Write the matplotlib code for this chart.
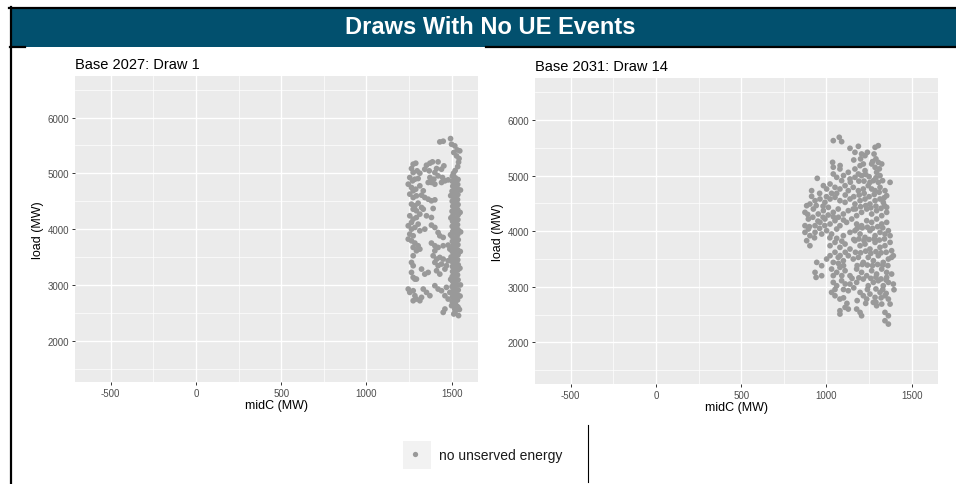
import matplotlib
matplotlib.use("Agg")
import matplotlib.pyplot as plt
from matplotlib.patches import Rectangle
from matplotlib.lines import Line2D

plt.rcParams['font.family'] = ['Liberation Sans', 'DejaVu Sans']
plt.rcParams['axes.unicode_minus'] = False

W, H = 956, 485

# ---- data (midC MW, load MW) ----
title = "Draws With No UE Events"
panel_titles = ["Base 2027: Draw 1", "Base 2031: Draw 14"]
legend_label = "no unserved energy"
x_ticks = [-500, 0, 500, 1000, 1500]
y_ticks = [2000, 3000, 4000, 5000, 6000]

# left panel: scattered part of the cloud
left_scatter = [
    (1430, 5564), (1450, 5576), (1493, 5623), (1499, 5522), (1518, 5492), (1532, 5420),
    (1547, 5403), (1512, 5373), (1528, 5313), (1543, 5265),
    (1274, 5164), (1289, 5182), (1352, 5146), (1372, 5182), (1387, 5206), (1420, 5206),
    (1454, 5134), (1264, 5086), (1274, 5015), (1297, 5045), (1313, 5003), (1342, 5074),
    (1368, 5045), (1401, 5015), (1411, 5086), (1440, 5074), (1254, 4925), (1270, 4866),
    (1284, 4895), (1303, 4907), (1372, 4925), (1395, 4895), (1420, 4955), (1446, 4925),
    (1460, 4866), (1479, 4883), (1245, 4806), (1264, 4746), (1274, 4687), (1289, 4716),
    (1313, 4776), (1333, 4687), (1362, 4836), (1381, 4836), (1401, 4806), (1440, 4836),
    (1254, 4627), (1274, 4567), (1293, 4597), (1323, 4609), (1342, 4567), (1362, 4537),
    (1381, 4508), (1401, 4525), (1264, 4448), (1284, 4418), (1303, 4466), (1274, 4358),
    (1293, 4329), (1323, 4388), (1333, 4358), (1391, 4370), (1254, 4239), (1274, 4179),
    (1264, 4120), (1293, 4209), (1313, 4269), (1352, 4239), (1381, 4209), (1303, 4090),
    (1245, 4060), (1264, 4000), (1284, 4030), (1313, 3970), (1342, 4000), (1381, 4072),
    (1401, 4030), (1420, 3940), (1430, 3881), (1450, 3851), (1254, 3911), (1274, 3881),
    (1245, 3821), (1264, 3791), (1284, 3750), (1303, 3702), (1313, 3642), (1274, 3672),
    (1293, 3612), (1381, 3750), (1401, 3702), (1420, 3672), (1450, 3702), (1479, 3714),
    (1489, 3642), (1401, 3612), (1274, 3523), (1264, 3403), (1274, 3344), (1264, 3224),
    (1284, 3105), (1323, 3284), (1342, 3194), (1362, 3224), (1391, 3523), (1411, 3463),
    (1430, 3493), (1401, 3403), (1420, 3344), (1440, 3374), (1411, 3254), (1430, 3194),
    (1460, 3284), (1469, 3344), (1450, 3463), (1479, 3433), (1245, 2926), (1254, 2866),
    (1274, 2896), (1284, 2807), (1293, 2747), (1313, 2717), (1333, 2926), (1352, 2866),
    (1372, 2807), (1323, 2777), (1274, 2717), (1401, 2986), (1420, 2926), (1440, 2896),
    (1469, 2956), (1489, 2866), (1460, 2807), (1479, 2747), (1460, 2568), (1450, 2508),
    (1499, 2628), (1518, 2568), (1512, 2479), (1293, 3105), (1274, 3135),
]

# left panel: dense column near 1500-1550 MW
left_column = [
    (1504, 4950), (1521, 4920), (1537, 4890), (1503, 4860), (1519, 4830), (1535, 4800),
    (1506, 4770), (1522, 4740), (1538, 4710), (1502, 4680), (1520, 4650), (1536, 4620),
    (1505, 4590), (1518, 4560), (1534, 4530), (1503, 4500), (1521, 4470), (1537, 4440),
    (1506, 4410), (1520, 4380), (1535, 4350), (1502, 4320), (1519, 4290), (1538, 4260),
    (1504, 4230), (1522, 4200), (1536, 4170), (1505, 4140), (1518, 4110), (1534, 4080),
    (1503, 4050), (1520, 4020), (1537, 3990), (1506, 3960), (1521, 3930), (1535, 3900),
    (1502, 3870), (1519, 3840), (1538, 3810), (1504, 3780), (1522, 3750), (1536, 3720),
    (1505, 3690), (1518, 3660), (1534, 3630), (1503, 3600), (1521, 3570), (1537, 3540),
    (1506, 3510), (1520, 3480), (1535, 3450), (1502, 3420), (1519, 3390), (1538, 3360),
    (1504, 3330), (1522, 3300), (1536, 3270), (1505, 3240), (1518, 3210), (1534, 3180),
    (1503, 3150), (1520, 3120), (1537, 3090), (1506, 3060), (1521, 3030), (1535, 3000),
    (1502, 2970), (1519, 2940), (1538, 2910), (1504, 2880), (1522, 2850), (1536, 2820),
    (1505, 2790), (1518, 2760), (1534, 2730), (1503, 2700), (1520, 2670),
    (1494, 4600), (1495, 4200), (1493, 3900), (1496, 3500), (1494, 3100), (1551, 4700),
    (1549, 4300), (1552, 3950), (1550, 3600), (1548, 3300), (1551, 3000), (1549, 2800),
    (1530, 2620), (1545, 2560), (1520, 2520), (1540, 2450), (1537, 2600), (1520, 5050),
    (1535, 5120), (1510, 5000), (1540, 5200),
]

# right panel cloud
right_pts = [
    (1040, 5628), (1075, 5688), (1089, 5610), (1138, 5490), (1167, 5418), (1187, 5526),
    (1206, 5388), (1226, 5358), (1240, 5418), (1285, 5508), (1304, 5538), (1279, 5388),
    (1036, 5238), (1079, 5118), (1128, 5058), (1167, 5118), (1197, 5178), (1216, 5208),
    (1265, 5208), (1285, 5148), (1304, 5238), (1324, 5208), (1294, 5058), (1314, 4998),
    (946, 4950), (1040, 5028), (1060, 4968), (1089, 4908), (1138, 4938), (1167, 4968),
    (1187, 5028), (1206, 4998), (1226, 5088), (1255, 4878), (1275, 4908), (1304, 4878),
    (1329, 4908), (1373, 4878), (913, 4728), (913, 4626), (982, 4818), (1001, 4758),
    (1021, 4848), (1050, 4788), (1079, 4758), (1109, 4818), (1128, 4728), (1157, 4788),
    (1187, 4728), (1216, 4758), (1245, 4818), (1265, 4758), (1285, 4728), (1314, 4788),
    (1343, 4728), (1353, 4638), (884, 4458), (903, 4488), (933, 4548), (962, 4578),
    (991, 4518), (1021, 4578), (1050, 4608), (1079, 4548), (1109, 4518), (1138, 4578),
    (1167, 4488), (1197, 4548), (1226, 4578), (1255, 4488), (1285, 4548), (1314, 4578),
    (1333, 4518), (874, 4338), (894, 4218), (923, 4398), (952, 4308), (982, 4368),
    (1011, 4428), (1040, 4338), (1069, 4398), (1099, 4308), (1128, 4368), (1157, 4398),
    (1177, 4278), (1206, 4338), (1236, 4398), (1265, 4308), (1294, 4368), (1324, 4278),
    (1353, 4338), (1353, 4428), (874, 4098), (874, 3978), (894, 4038), (903, 3918),
    (884, 3828), (903, 3738), (933, 4098), (962, 4158), (991, 4218), (1021, 4128),
    (1050, 4188), (1079, 4098), (1118, 4158), (1148, 4218), (1177, 4128), (1206, 4098),
    (1236, 4188), (1265, 4158), (1294, 4218), (1324, 4128), (1353, 4158), (933, 3978),
    (972, 3948), (1001, 4008), (1030, 3948), (1060, 4038), (1099, 3918), (1138, 3978),
    (1167, 4008), (1197, 3948), (1226, 3888), (1255, 4008), (1285, 3918), (1314, 3978),
    (1343, 3948), (1363, 4008), (1373, 3918), (1021, 3738), (1050, 3798), (1079, 3708),
    (1109, 3768), (1138, 3678), (1167, 3828), (1197, 3738), (1226, 3768), (1255, 3678),
    (1285, 3798), (1314, 3708), (1343, 3738), (1373, 3798), (1382, 3648), (1382, 3528),
    (943, 3438), (933, 3258), (939, 3168), (972, 3378), (972, 3198), (1001, 3498),
    (1021, 3558), (1040, 3438), (1069, 3528), (1099, 3468), (1128, 3558), (1157, 3498),
    (1187, 3528), (1216, 3438), (1245, 3528), (1275, 3468), (1304, 3558), (1333, 3438),
    (1363, 3498), (1392, 3558), (1382, 3228), (1030, 3318), (1060, 3258), (1079, 3348),
    (1109, 3288), (1138, 3198), (1177, 3318), (1206, 3258), (1236, 3198), (1265, 3288),
    (1294, 3228), (1324, 3318), (1353, 3258), (1353, 3168), (1040, 3078), (1060, 3018),
    (1089, 3108), (1138, 3048), (1177, 3078), (1216, 3138), (1245, 3018), (1275, 3078),
    (1304, 3108), (1333, 3018), (1363, 3078), (1392, 3048), (1396, 2946), (1030, 2898),
    (1050, 2838), (1079, 2778), (1128, 2928), (1197, 2898), (1216, 2838), (1236, 2778),
    (1255, 2868), (1285, 2808), (1314, 2898), (1343, 2838), (1363, 2778), (1373, 2688),
    (1079, 2568), (1079, 2508), (1109, 2628), (1128, 2598), (1177, 2598), (1197, 2538),
    (1206, 2478), (1343, 2538), (1363, 2478), (1343, 2388), (1363, 2328), (1275, 2718),
    (1294, 2658), (1324, 2688),
    (1192, 4650), (1221, 4680), (1250, 4620), (1280, 4660), (1309, 4700), (1338, 4600),
    (1170, 4400), (1200, 4440), (1230, 4460), (1260, 4420), (1290, 4450), (1320, 4410),
    (1340, 4460), (1180, 4050), (1210, 4060), (1240, 4070), (1270, 4050), (1300, 4080),
    (1330, 4060), (1160, 3850), (1190, 3860), (1220, 3830), (1250, 3850), (1280, 3860),
    (1310, 3840), (1340, 3860), (1170, 3620), (1200, 3610), (1230, 3640), (1260, 3600),
    (1290, 3630), (1320, 3610), (1350, 3620), (1180, 3380), (1210, 3400), (1240, 3390),
    (1270, 3380), (1300, 3400), (1330, 3390), (1360, 3380), (1150, 3150), (1190, 3160),
    (1260, 3150), (1290, 3170), (1320, 3140), (1350, 3120), (1100, 4200), (1070, 4250),
    (1040, 4260), (1010, 4290), (980, 4250), (950, 4180), (920, 4250), (890, 4300),
    (900, 4080), (930, 3880), (960, 4050), (990, 4100), (1020, 3880), (1060, 3870),
    (1090, 3820), (1110, 3620), (1080, 3560), (1050, 3620), (1100, 3380), (1070, 3420),
    (1040, 3200), (1090, 3200), (1110, 3050), (1160, 2980), (1100, 2950), (1050, 2950),
    (1240, 2950), (1290, 2960), (1330, 2950), (1350, 2880), (1320, 2800), (1290, 2720),
    (1230, 2700), (1180, 2750), (1100, 2800), (1120, 2700), (1110, 4650), (1060, 4680),
    (1030, 4680), (1000, 4620), (960, 4680), (980, 4450), (940, 4460), (1160, 4620),
    (1140, 4880), (1190, 4900), (1220, 4900), (1250, 4980), (1290, 4960), (1310, 5120),
    (1290, 5300), (1270, 5250), (1230, 5020), (1100, 5000), (1080, 5180), (1040, 5150),
    (1200, 5300), (1160, 5280),
]

left_pts = left_scatter + left_column

POINT = '#999999'
PANEL = '#EBEBEB'


def fx(px):
    return px / W


def fy(py):
    return 1 - py / H


fig = plt.figure(figsize=(W / 100, H / 100), dpi=100)
fig.patch.set_facecolor('white')

# banner and slide borders
fig.patches.append(Rectangle((fx(10), fy(48)), fx(956) - fx(10), fy(9) - fy(48),
                             transform=fig.transFigure, facecolor='#02506E', edgecolor='none'))
fig.lines.append(Line2D([fx(9), fx(956)], [fy(8.5), fy(8.5)], transform=fig.transFigure,
                        color='black', lw=1.6))
fig.lines.append(Line2D([fx(486), fx(956)], [fy(48), fy(48)], transform=fig.transFigure,
                        color='black', lw=1.6))
fig.lines.append(Line2D([fx(10), fx(25)], [fy(48), fy(48)], transform=fig.transFigure,
                        color='black', lw=1.6))
fig.lines.append(Line2D([fx(11), fx(11)], [fy(8), fy(485)], transform=fig.transFigure,
                        color='black', lw=1.6))
fig.lines.append(Line2D([fx(588), fx(588)], [fy(426), fy(483)], transform=fig.transFigure,
                        color='black', lw=0.8))
fig.text(fx(490), fy(28), title, color='white', fontsize=17, fontweight='bold',
         ha='center', va='center')

panels = [
    # (points, title, left px, top px, ylim)
    (left_pts, panel_titles[0], 75, 77, (1260, 6745)),
    (right_pts, panel_titles[1], 535, 79, (1250, 6755)),
]

for pts, ptitle, left, top, ylim in panels:
    ax = fig.add_axes([fx(left), fy(top + 306), 403 / W, 306 / H])
    ax.set_facecolor(PANEL)
    xs = [p[0] for p in pts]
    ys = [p[1] for p in pts]
    ax.scatter(xs, ys, s=17, color=POINT, edgecolors='none', zorder=3)
    ax.set_xlim(-709, 1654)
    ax.set_ylim(*ylim)
    ax.set_xticks(x_ticks)
    ax.set_yticks(y_ticks)
    ax.set_xticks([-250, 250, 750, 1250], minor=True)
    ax.set_yticks([1500, 2500, 3500, 4500, 5500, 6500], minor=True)
    ax.grid(True, which='major', color='white', lw=1.0)
    ax.grid(True, which='minor', color='white', lw=0.5)
    ax.set_axisbelow(True)
    for s in ax.spines.values():
        s.set_visible(False)
    ax.tick_params(which='major', length=2.5, width=0.7, color='#333333',
                   labelcolor='#4D4D4D', labelsize=7, pad=1.5)
    ax.tick_params(which='minor', length=0)
    ax.set_xlabel('midC (MW)', fontsize=9, labelpad=1)
    ax.set_ylabel('load (MW)', fontsize=9, labelpad=3)
    ax.set_title(ptitle, loc='left', fontsize=10.5, pad=6)

# legend (drawn as in ggplot, centred below the panels)
fig.patches.append(Rectangle((fx(402.5), fy(470)), 28 / W, 28 / H, transform=fig.transFigure,
                             facecolor='#F2F2F2', edgecolor='none'))
fig.lines.append(Line2D([fx(415)], [fy(455)], transform=fig.transFigure, marker='o',
                        markersize=3.8, color=POINT, markeredgewidth=0, linestyle='none'))
fig.text(fx(439), fy(456), legend_label, fontsize=10, color='#1A1A1A', ha='left', va='center')

fig.savefig('out.png', dpi=100)
